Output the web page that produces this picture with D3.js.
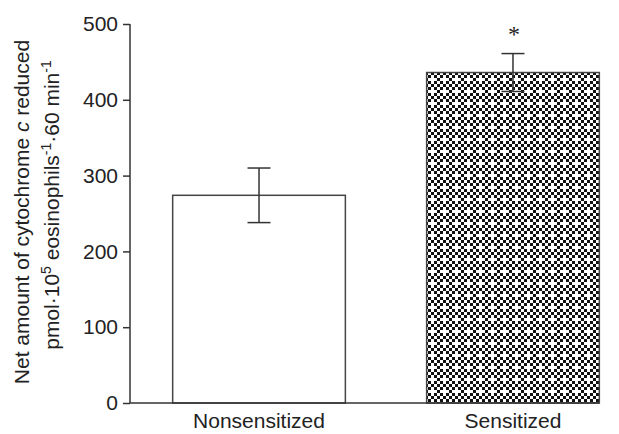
<!DOCTYPE html>
<html>
<head>
<meta charset="utf-8">
<script src="https://cdn.jsdelivr.net/npm/d3@7"></script>
<style>
  body { margin: 0; background: #fff; }
  svg text { font-family: "Liberation Sans", Arial, sans-serif; fill: #222; }
</style>
</head>
<body>
<div id="chart"></div>
<script>
// data
const groups = ['Nonsensitized', 'Sensitized'];
const means = [274, 436];
const errors = [36, 25];
const yTicks = [0, 100, 200, 300, 400, 500];
const marks = ['', '*'];

const width = 619,
  height = 434,
  margin = {left: 130, top: 24, right: 21, bottom: 31};

const svg = d3.select('#chart').append('svg')
  .attr('width', width)
  .attr('height', height);

// hatch like pattern: 3px checkerboard with one black cell dropped per 4x4 tile
const defs = svg.append('defs');
const pat = defs.append('pattern')
  .attr('id', 'check')
  .attr('patternUnits', 'userSpaceOnUse')
  .attr('width', 12)
  .attr('height', 12)
  .attr('x', 425)
  .attr('y', 72);
pat.append('rect').attr('width', 12).attr('height', 12).attr('fill', '#fff');
for (let r = 0; r < 4; r++) {
  for (let c = 0; c < 4; c++) {
    if ((r + c) % 2 === 0 && !(r === 2 && c === 2)) {
      pat.append('rect')
        .attr('x', c * 3).attr('y', r * 3)
        .attr('width', 3).attr('height', 3)
        .attr('fill', '#111');
    }
  }
}

const y = d3.scaleLinear()
  .domain([0, 500])
  .range([height - margin.bottom, margin.top]);

const x = d3.scaleBand()
  .domain(groups)
  .range([margin.left, 642])
  .paddingInner(0.32)
  .paddingOuter(0.168);

// bars
svg.selectAll('.bar')
  .data(groups)
  .enter()
  .append('rect')
  .attr('class', 'bar')
  .attr('x', d => x(d))
  .attr('y', (d, i) => y(means[i]))
  .attr('width', x.bandwidth())
  .attr('height', (d, i) => y(0) - y(means[i]))
  .attr('fill', (d, i) => i === 1 ? 'url(#check)' : '#fff')
  .attr('stroke', '#444')
  .attr('stroke-width', 1.5);

// error bars
const cap = 11.5;
const err = svg.selectAll('.err')
  .data(groups)
  .enter()
  .append('g')
  .attr('class', 'err')
  .attr('stroke', '#333')
  .attr('stroke-width', 1.5);
err.append('line')
  .attr('x1', d => x(d) + x.bandwidth() / 2)
  .attr('x2', d => x(d) + x.bandwidth() / 2)
  .attr('y1', (d, i) => y(means[i] + errors[i]))
  .attr('y2', (d, i) => y(means[i] - errors[i]));
err.append('line')
  .attr('x1', d => x(d) + x.bandwidth() / 2 - cap)
  .attr('x2', d => x(d) + x.bandwidth() / 2 + cap)
  .attr('y1', (d, i) => y(means[i] + errors[i]))
  .attr('y2', (d, i) => y(means[i] + errors[i]));
err.append('line')
  .attr('x1', d => x(d) + x.bandwidth() / 2 - cap)
  .attr('x2', d => x(d) + x.bandwidth() / 2 + cap)
  .attr('y1', (d, i) => y(means[i] - errors[i]))
  .attr('y2', (d, i) => y(means[i] - errors[i]));

// significance mark
svg.selectAll('.mark')
  .data(groups)
  .enter()
  .append('text')
  .attr('class', 'mark')
  .attr('x', d => x(d) + x.bandwidth() / 2 + 1)
  .attr('y', (d, i) => y(means[i] + errors[i]) - 12)
  .attr('text-anchor', 'middle')
  .style('font-family', '"Liberation Serif", "Times New Roman", serif')
  .style('font-size', '24px')
  .text((d, i) => marks[i]);

// y axis
const yAxis = svg.append('g')
  .attr('transform', 'translate(' + margin.left + ',0)')
  .call(d3.axisLeft(y).tickValues(yTicks).tickSize(7).tickPadding(5));
yAxis.select('.domain').attr('stroke', '#333').attr('stroke-width', 1.5)
  .attr('d', 'M0,' + y(500) + 'V' + y(0));
yAxis.selectAll('.tick line').attr('stroke', '#333').attr('stroke-width', 1.5);
yAxis.selectAll('.tick text')
  .style('font-family', '"Liberation Sans", Arial, sans-serif')
  .style('font-size', '21px')
  .attr('fill', '#222');

// x axis
const xAxis = svg.append('g')
  .attr('transform', 'translate(0,' + y(0) + ')')
  .call(d3.axisBottom(x).tickSize(0).tickPadding(10));
xAxis.select('.domain').attr('stroke', '#333').attr('stroke-width', 1.5)
  .attr('d', 'M' + margin.left + ',0H' + (x(groups[1]) + x.bandwidth()));
xAxis.selectAll('.tick text')
  .style('font-family', '"Liberation Sans", Arial, sans-serif')
  .style('font-size', '21px')
  .attr('fill', '#222');

// y label, two lines
const lab = svg.append('text')
  .attr('transform', 'translate(29,' + 212 + ') rotate(-90)')
  .attr('text-anchor', 'middle')
  .style('font-size', '21px');
lab.append('tspan').text('Net amount of cytochrome ');
lab.append('tspan').style('font-style', 'italic').text('c');
lab.append('tspan').text(' reduced');

const lab2 = svg.append('text')
  .attr('transform', 'translate(59,' + 205 + ') rotate(-90)')
  .attr('text-anchor', 'middle')
  .style('font-size', '21px');
lab2.append('tspan').text('pmol·10');
lab2.append('tspan').attr('dy', -8).style('font-size', '14px').text('5');
lab2.append('tspan').attr('dy', 8).text(' eosinophils');
lab2.append('tspan').attr('dy', -8).style('font-size', '14px').text('-1');
lab2.append('tspan').attr('dy', 8).text('·60 min');
lab2.append('tspan').attr('dy', -8).style('font-size', '14px').text('-1');
</script>
</body>
</html>
